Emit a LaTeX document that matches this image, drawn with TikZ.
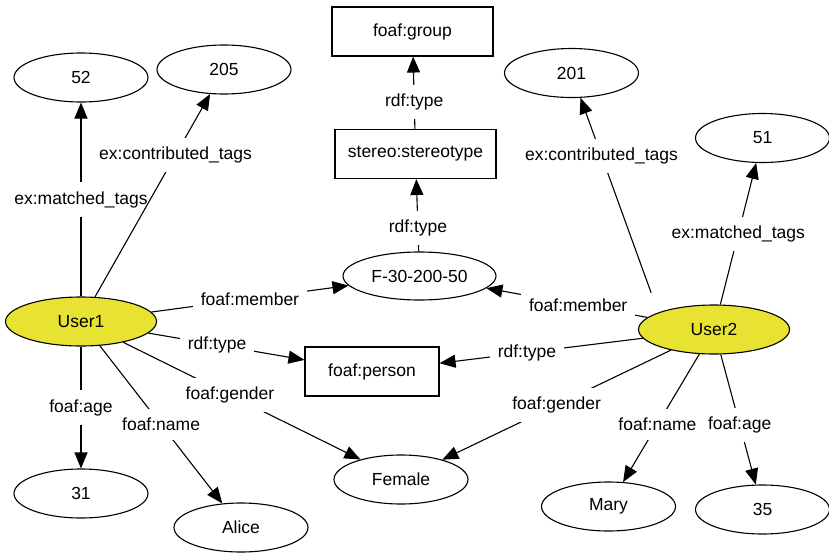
\documentclass[tikz,border=0pt]{standalone}
\usepackage{fontspec}
\setmainfont{Liberation Sans}
\definecolor{UserYellow}{RGB}{232, 227, 50}
\usetikzlibrary{arrows.meta, shapes.geometric}

\begin{document}
\begin{tikzpicture}[
      x=1pt, y=-1pt,
      font=\fontsize{17.5}{20}\selectfont,
      >={Triangle[length=16pt, width=13pt]},
      line width=1.1pt,
      litE/.style={draw, ellipse, inner sep=0pt, minimum width=134pt, minimum height=49pt},
      usrE/.style={litE, fill=UserYellow, minimum width=151pt},
      clsB/.style={draw, rectangle, inner sep=0pt, minimum width=161pt, minimum height=49pt},
      lbl/.style={fill=white, inner xsep=8pt, inner ysep=9pt}
    ]
      \useasboundingbox (0,0) rectangle (829,554);
      % users and the group they share
      \node[usrE] (user1) at (81, 321.5) {User1};
      \node[usrE] (user2) at (714, 329.5) {User2};
      \node[litE, minimum width=153pt, minimum height=48pt] (grp) at (419.5, 276) {F-30-200-50};
      \node[clsB] (stereo) at (415.5, 154) {stereo:stereotype};
      \node[clsB] (group) at (412.5, 31.5) {foaf:group};
      \node[clsB, minimum width=134pt] (person) at (372, 371.5) {foaf:person};
      % literal values
      \node[litE] (v52) at (81, 77.5) {52};
      \node[litE] (v205) at (224, 69.5) {205};
      \node[litE] (v201) at (571.5, 73) {201};
      \node[litE] (v51) at (762.5, 138) {51};
      \node[litE] (v31) at (81, 493.5) {31};
      \node[litE] (alice) at (241, 527.5) {Alice};
      \node[litE] (female) at (401, 479.5) {Female};
      \node[litE] (mary) at (608.5, 506.5) {Mary};
      \node[litE] (v35) at (762.5, 509.5) {35};

      \draw[->] (grp) -- (stereo) node[lbl, pos=0.32] {rdf:type};
      \draw[->] (stereo) -- (group) node[lbl, pos=0.37] {rdf:type};

      \draw[->] (user1) -- (v52) node[lbl, midway] {ex:matched\_tags};
      \draw[->] (user1) -- (v205) node[lbl, pos=0.7] {ex:contributed\_tags};
      \draw[->] (user1) -- (grp) node[lbl, midway] {foaf:member};
      \draw[->] (user1) -- (person) node[lbl, pos=0.44] {rdf:type};
      \draw[->] (user1) -- (female) node[lbl, pos=0.45] {foaf:gender};
      \draw[->] (user1) -- (v31) node[lbl, midway] {foaf:age};
      \draw[->] (user1) -- (alice) node[lbl, midway] {foaf:name};

      \draw[->] (user2) -- (v51) node[lbl, midway] {ex:matched\_tags};
      \draw[->, shorten <=21pt] (user2.163) -- (v201) node[lbl, pos=0.73] {ex:contributed\_tags};
      \draw[->] (user2) -- (grp) node[lbl, pos=0.43] {foaf:member};
      \draw[->] (user2) -- (person) node[lbl, pos=0.57] {rdf:type};
      \draw[->] (user2) -- (female) node[lbl, midway] {foaf:gender};
      \draw[->] (user2) -- (mary) node[lbl, pos=0.55] {foaf:name};
      \draw[->] (user2) -- (v35) node[lbl, pos=0.54] {foaf:age};
    \end{tikzpicture}
\end{document}
